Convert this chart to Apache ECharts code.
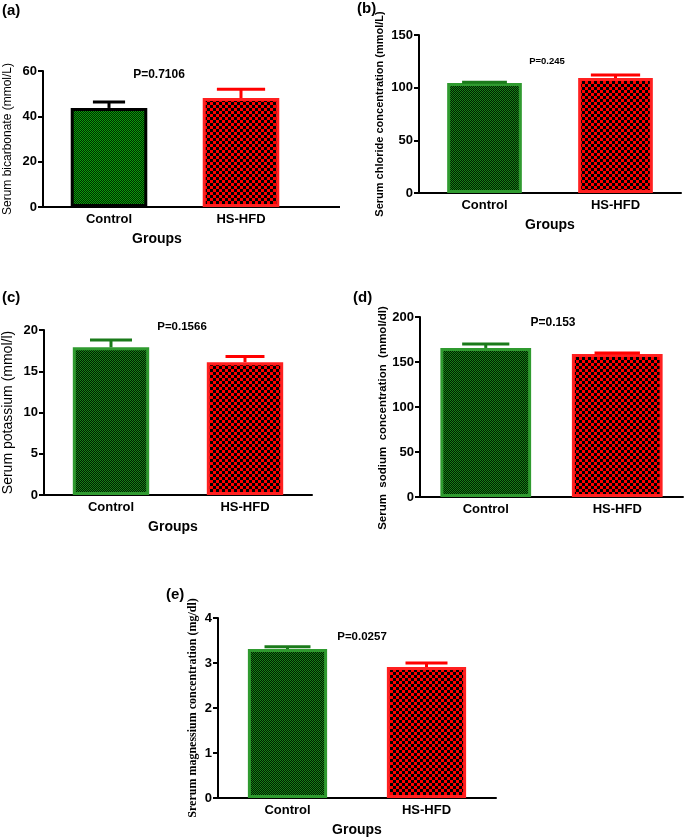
<!DOCTYPE html>
<html>
<head>
<meta charset="utf-8">
<script src="https://cdn.jsdelivr.net/npm/echarts@6/dist/echarts.min.js"></script>
<style>
  html, body { margin: 0; padding: 0; background: #fff; }
  #main { width: 685px; height: 838px; }
</style>
</head>
<body>
<div id="main"></div>
<script>
// data
var groups = ['Control', 'HS-HFD'];
var bicarbMean = [43.7, 48.1];
var bicarbUpper = [46.3, 52.0];
var chlorideMean = [104.4, 109.2];
var chlorideUpper = [105.2, 112.0];
var potassiumMean = [17.9, 16.1];
var potassiumUpper = [18.8, 16.8];
var sodiumMean = [165.6, 158.9];
var sodiumUpper = [170.0, 160.0];
var magnesiumMean = [3.31, 2.91];
var magnesiumUpper = [3.36, 3.0];
var pValues = ['P=0.7106', 'P=0.245', 'P=0.1566', 'P=0.153', 'P=0.0257'];

var FONT = 'Arial, "Liberation Sans", sans-serif';

// checkerboard fills
function checker(c1, c2, cell) {
  var cv = document.createElement('canvas');
  cv.width = cell * 2; cv.height = cell * 2;
  var ctx = cv.getContext('2d');
  ctx.fillStyle = c1; ctx.fillRect(0, 0, cell * 2, cell * 2);
  ctx.fillStyle = c2;
  ctx.fillRect(cell, 0, cell, cell);
  ctx.fillRect(0, cell, cell, cell);
  return { image: cv, repeat: 'repeat' };
}
var greenBright = checker('#0aa00a', '#002800', 1);
var greenDark = checker('#168016', '#001c00', 1);
var redCheck = checker('#ff0000', '#000000', 3);

var panels = [
  { mean: bicarbMean, upper: bicarbUpper, max: 60, step: 20,
    grid: { left: 43, top: 71, width: 264, height: 136 },
    yName: 'Serum bicarbonate (mmol/L)', yFont: { fontSize: 12, fontWeight: 'normal', fontFamily: FONT }, nameGap: 29,
    groups: true, groupsPad: [0, 36, 0, 0], barWidth: '58%', caps: [0.42, 0.63],
    ctrlFill: greenBright, ctrlBorder: '#000000', ctrlErr: '#000000' },
  { mean: chlorideMean, upper: chlorideUpper, max: 150, step: 50,
    grid: { left: 419, top: 35, width: 262, height: 158 },
    yName: 'Serum chloride concentration (mmol/L)', yFont: { fontSize: 11, fontWeight: 'bold', fontFamily: 'Liberation Sans' }, nameGap: 34,
    groups: true, groupsPad: 0, barWidth: '57%', caps: [0.6, 0.66],
    ctrlFill: greenDark, ctrlBorder: '#2f9a2f', ctrlErr: '#1a7a1a' },
  { mean: potassiumMean, upper: potassiumUpper, max: 20, step: 5,
    grid: { left: 44, top: 330, width: 268, height: 165 },
    yName: 'Serum potassium (mmol/l)', yFont: { fontSize: 14, fontWeight: 'normal', fontFamily: FONT }, nameGap: 29,
    groups: true, groupsPad: [0, 10, 0, 0], barWidth: '57%', caps: [0.55, 0.51],
    ctrlFill: greenDark, ctrlBorder: '#2f9a2f', ctrlErr: '#1a7a1a' },
  { mean: sodiumMean, upper: sodiumUpper, max: 200, step: 50,
    grid: { left: 420, top: 317, width: 263, height: 180 },
    yName: 'Serum  sodium  concentration  (mmol/dl)', yFont: { fontSize: 11.5, fontWeight: 'bold', fontFamily: 'Liberation Sans', padding: [0, 22, 0, 0] }, nameGap: 30,
    groups: false, barWidth: '69%', caps: [0.52, 0.5],
    ctrlFill: greenDark, ctrlBorder: '#2f9a2f', ctrlErr: '#1a7a1a' },
  { mean: magnesiumMean, upper: magnesiumUpper, max: 4, step: 1,
    grid: { left: 218, top: 618, width: 278, height: 180 },
    yName: 'Srerum magnessium concentration (mg/dl)', yFont: { fontSize: 12, fontWeight: 'bold', fontFamily: '"Liberation Serif", "DejaVu Serif", serif' }, nameGap: 19,
    groups: true, groupsPad: 0, barWidth: '57%', caps: [0.58, 0.53],
    ctrlFill: greenDark, ctrlBorder: '#2f9a2f', ctrlErr: '#1a7a1a' }
];

var grids = [], xAxes = [], yAxes = [], series = [];

panels.forEach(function (p, i) {
  grids.push(p.grid);
  xAxes.push({
    type: 'category', gridIndex: i, data: groups,
    axisLine: { lineStyle: { color: '#000', width: 2 } },
    axisTick: { show: false },
    axisLabel: { color: '#000', fontSize: 13, fontWeight: 'bold', fontFamily: FONT, margin: 6 },
    name: p.groups ? 'Groups' : '', nameLocation: 'middle', nameGap: 25,
    nameTextStyle: { color: '#000', fontSize: 14, fontWeight: 'bold', fontFamily: FONT, padding: p.groupsPad || 0 }
  });
  yAxes.push({
    type: 'value', gridIndex: i, min: 0, max: p.max, interval: p.step,
    splitLine: { show: false },
    axisLine: { show: true, lineStyle: { color: '#000', width: 2 } },
    axisTick: { show: true, length: 5, lineStyle: { color: '#000', width: 2 } },
    axisLabel: { color: '#000', fontSize: 13, fontWeight: 'bold', fontFamily: FONT, margin: 6 },
    name: p.yName, nameLocation: 'middle', nameRotate: 90, nameGap: p.nameGap,
    nameTextStyle: Object.assign({ color: '#000' }, p.yFont)
  });
  series.push({
    type: 'bar', xAxisIndex: i, yAxisIndex: i, barWidth: p.barWidth,
    data: p.mean.map(function (v, k) {
      return {
        value: v,
        itemStyle: k === 0
          ? { color: p.ctrlFill, borderColor: p.ctrlBorder, borderWidth: 3 }
          : { color: redCheck, borderColor: '#ff2020', borderWidth: 3 }
      };
    }),
    z: 2
  });
  var bw = parseFloat(p.barWidth) / 100;
  series.push({
    type: 'custom', xAxisIndex: i, yAxisIndex: i, z: 3,
    data: p.mean.map(function (v, k) { return [k, v, p.upper[k]]; }),
    renderItem: function (params, api) {
      var k = api.value(0);
      var lo = api.coord([k, api.value(1)]);
      var hi = api.coord([k, api.value(2)]);
      var band = api.size([1, 0])[0];
      var half = band * bw * p.caps[k] / 2;
      var col = k === 0 ? p.ctrlErr : '#ff0000';
      var st = { stroke: col, lineWidth: 3 };
      return {
        type: 'group',
        children: [
          { type: 'line', shape: { x1: lo[0], y1: lo[1], x2: hi[0], y2: hi[1] }, style: st },
          { type: 'line', shape: { x1: hi[0] - half, y1: hi[1], x2: hi[0] + half, y2: hi[1] }, style: st }
        ]
      };
    }
  });
});

var txt = function (x, y, s, size) {
  return { type: 'text', x: x, y: y,
    style: { text: s, fill: '#000', font: 'bold ' + size + 'px ' + FONT, textAlign: 'center', textVerticalAlign: 'middle' } };
};
var graphics = [
  { type: 'text', left: 2, top: 3, style: { text: '(a)', fill: '#000', font: 'bold 15px ' + FONT } },
  { type: 'text', left: 357, top: 1, style: { text: '(b)', fill: '#000', font: 'bold 15px ' + FONT } },
  { type: 'text', left: 2, top: 290, style: { text: '(c)', fill: '#000', font: 'bold 15px ' + FONT } },
  { type: 'text', left: 353, top: 290, style: { text: '(d)', fill: '#000', font: 'bold 15px ' + FONT } },
  { type: 'text', left: 166, top: 587, style: { text: '(e)', fill: '#000', font: 'bold 15px ' + FONT } },
  txt(159, 75, pValues[0], 12),
  txt(547, 61, pValues[1], 9.5),
  txt(182, 327, pValues[2], 11.5),
  txt(553, 323, pValues[3], 12),
  txt(362, 637, pValues[4], 11.5),
  // panel (a) x axis runs past the last category
  { type: 'line', shape: { x1: 307, y1: 207, x2: 340, y2: 207 }, style: { stroke: '#000', lineWidth: 2 } }
];

var chart = echarts.init(document.getElementById('main'), null, { renderer: 'canvas' });
chart.setOption({
  animation: false,
  backgroundColor: '#fff',
  grid: grids,
  xAxis: xAxes,
  yAxis: yAxes,
  series: series,
  graphic: graphics
});
</script>
</body>
</html>
